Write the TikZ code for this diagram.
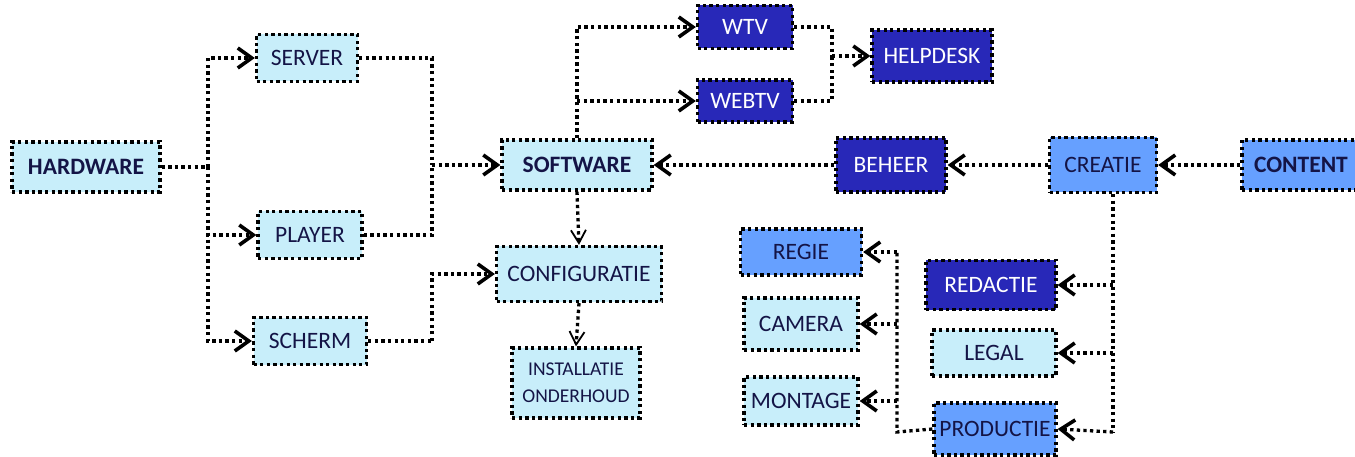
\documentclass[tikz,border=0pt]{standalone}
\usepackage{fontspec}
\setmainfont{Carlito}
\usetikzlibrary{arrows.meta}
\definecolor{lightc}{RGB}{200,238,250}
\definecolor{darkc}{RGB}{40,40,184}
\definecolor{midc}{RGB}{102,160,255}
\definecolor{txtc}{RGB}{20,20,70}
\tikzset{
  box/.style={draw=black, line width=3.3pt, dash pattern=on 3.3pt off 3.3pt, inner sep=0pt, font=\fontsize{23.5}{26}\selectfont},
  lbox/.style={box, fill=lightc, text=txtc},
  dbox/.style={box, fill=darkc, text=white},
  mbox/.style={box, fill=midc, text=txtc},
  ln/.style={draw=black, line width=3.3pt, dash pattern=on 3.3pt off 3.3pt},
  arr/.style={-{Straight Barb[length=14pt,width=20pt,line width=3.6pt]}},
  sarr/.style={-{Straight Barb[length=13pt,width=15pt,line width=1.8pt]}},
}
\begin{document}
\begin{tikzpicture}[x=1pt,y=-1pt]
\useasboundingbox (0,0) rectangle (1355,457);
% nodes
\node[lbox, minimum width=148pt, minimum height=50pt] (hw) at (86,167) {\textbf{HARDWARE}};
\node[lbox, minimum width=101pt, minimum height=47pt] (server) at (307,58) {SERVER};
\node[lbox, minimum width=104pt, minimum height=47pt] (player) at (310,235) {PLAYER};
\node[lbox, minimum width=113pt, minimum height=47pt] (scherm) at (310,341) {SCHERM};
\node[lbox, minimum width=150pt, minimum height=50pt] (sw) at (577,165) {\textbf{SOFTWARE}};
\node[lbox, minimum width=165pt, minimum height=55pt] (config) at (579,274) {CONFIGURATIE};
\node[lbox, minimum width=128pt, minimum height=70pt, align=center, font=\fontsize{19.5}{27}\selectfont] (inst) at (576,383) {INSTALLATIE\\ONDERHOUD};
\node[dbox, minimum width=95pt, minimum height=43pt] (wtv) at (745,27) {WTV};
\node[dbox, minimum width=95pt, minimum height=42pt] (webtv) at (745,101) {WEBTV};
\node[dbox, minimum width=120pt, minimum height=52pt] (help) at (932,56) {HELPDESK};
\node[dbox, minimum width=110pt, minimum height=54pt] (beheer) at (891,165) {BEHEER};
\node[mbox, minimum width=107pt, minimum height=55pt] (creatie) at (1103,165) {CREATIE};
\node[mbox, minimum width=130pt, minimum height=50pt, text width=126pt, align=left] (content) at (1307,165) {\hspace*{10pt}\textbf{CONTENT}};
\node[mbox, minimum width=121pt, minimum height=46pt] (regie) at (801,252) {REGIE};
\node[lbox, minimum width=114pt, minimum height=52pt] (camera) at (801,324) {CAMERA};
\node[lbox, minimum width=114pt, minimum height=48pt] (montage) at (801,401) {MONTAGE};
\node[dbox, minimum width=130pt, minimum height=49pt] (redactie) at (991,285) {REDACTIE};
\node[lbox, minimum width=124pt, minimum height=46pt] (legal) at (994,353) {LEGAL};
\node[mbox, minimum width=122pt, minimum height=52pt] (productie) at (995,429) {PRODUCTIE};
% junction coordinates
\coordinate (j1) at (208,167);
\coordinate (j2) at (432,165);
\coordinate (j3) at (432,341);
\coordinate (j4) at (577,101);
\coordinate (j5) at (832,56);
\coordinate (j6) at (1113,432);
\coordinate (j7) at (897,432);
% hardware branch
\draw[ln] (hw.east) -- (j1);
\draw[ln,arr] (j1) |- (server.west);
\draw[ln,arr] (j1) |- (player.west);
\draw[ln,arr] (j1) |- (scherm.west);
% to software
\draw[ln] (server.east) -| (j2);
\draw[ln] (player.east) -| (j2);
\draw[ln,arr] (j2) -- (sw.west);
\draw[ln] (scherm.east) -- (j3);
\draw[ln,arr] (j3) |- (config.west);
% software up
\draw[ln,arr] (sw.north) |- (wtv.west);
\draw[ln,arr] (j4) -- (webtv.west);
\draw[ln] (wtv.east) -| (j5);
\draw[ln] (webtv.east) -| (j5);
\draw[ln,arr] (j5) -- (help.west);
% software down
\draw[ln,sarr] (sw.south) -- (config.north);
\draw[ln,sarr] (config.south) -- (inst.north);
% right chain
\draw[ln,arr] (beheer.west) -- (sw.east);
\draw[ln,arr] (creatie.west) -- (beheer.east);
\draw[ln,arr] (content.west) -- (creatie.east);
% creatie down
\draw[ln] (creatie.south -| j6) -- (j6);
\draw[ln,arr] (j6 |- redactie.east) -- (redactie.east);
\draw[ln,arr] (j6 |- legal.east) -- (legal.east);
\draw[ln,arr] (j6) -- (productie.east);
% productie left
\draw[ln] (productie.west) -- (j7) -- (j7 |- regie.east);
\draw[ln,arr] (j7 |- regie.east) -- (regie.east);
\draw[ln,arr] (j7 |- camera.east) -- (camera.east);
\draw[ln,arr] (j7 |- montage.east) -- (montage.east);
\end{tikzpicture}
\end{document}
